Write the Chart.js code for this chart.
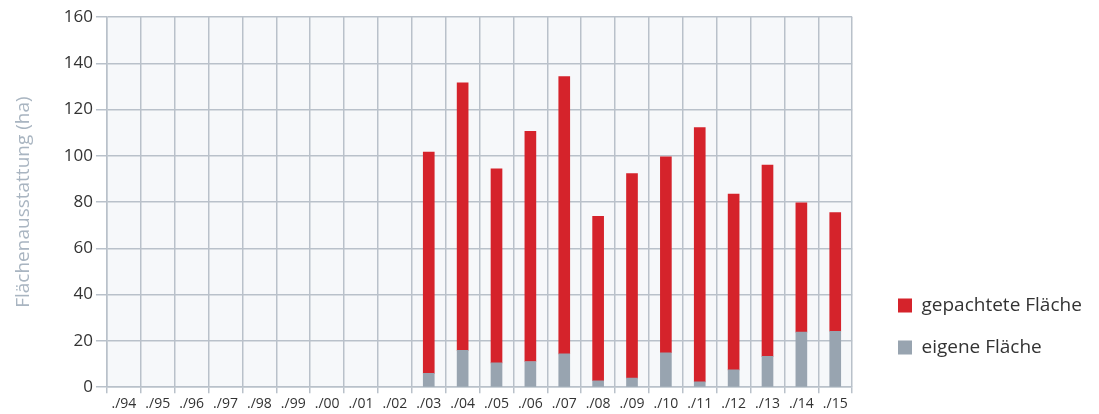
<!DOCTYPE html>
<html>
<head>
<meta charset="utf-8">
<script src="https://cdn.jsdelivr.net/npm/chart.js@4"></script>
<style>
  html, body { margin: 0; padding: 0; background: #fff; }
  #wrap { width: 1099px; height: 414px; position: relative; }
</style>
</head>
<body>
<div id="wrap"><canvas id="myChart" width="1099" height="414"></canvas></div>
<script>
var labels = ['./94', './95', './96', './97', './98', './99', './00', './01', './02', './03', './04',
  './05', './06', './07', './08', './09', './10', './11', './12', './13', './14', './15'];

// eigene Fläche (ha)
var eigene = [null, null, null, null, null, null, null, null, null,
  6, 15.9, 10.5, 11.1, 14.4, 2.8, 3.9, 14.9, 2.3, 7.5, 13.3, 23.8, 24.2];

// gepachtete Fläche (ha)
var gepachtet = [null, null, null, null, null, null, null, null, null,
  95.6, 115.7, 83.9, 99.5, 119.8, 71.1, 88.4, 84.7, 109.9, 76, 82.7, 55.9, 51.3];

var yTicks = [0, 20, 40, 60, 80, 100, 120, 140, 160];

// light background behind the plot area
var plotBg = {
  id: 'plotBg',
  beforeDraw: function (chart) {
    var a = chart.chartArea;
    var c = chart.ctx;
    c.save();
    c.fillStyle = '#f6f8fa';
    c.fillRect(a.left, a.top, a.right - a.left, a.bottom - a.top);
    c.restore();
  }
};

// move the legend block a bit away from the plot and up
var legendPos = {
  id: 'legendPos',
  afterLayout: function (chart) {
    var lg = chart.legend;
    var dx = 875 - lg.left;
    lg.left += dx; lg.right += dx;
    lg.top -= 34; lg.bottom -= 34;
  }
};

var ctx = document.getElementById('myChart').getContext('2d');
var chart = new Chart(ctx, {
  type: 'bar',
  data: {
    labels: labels,
    datasets: [{
      label: 'eigene Fläche',
      data: eigene,
      backgroundColor: '#98a4b0',
      borderWidth: 0,
      barThickness: 11
    }, {
      label: 'gepachtete Fläche',
      data: gepachtet,
      backgroundColor: '#d5232b',
      borderWidth: 0,
      barThickness: 11
    }]
  },
  plugins: [plotBg, legendPos],
  options: {
    responsive: false,
    animation: false,
    layout: { padding: { top: 17, left: 8, right: 30, bottom: 0 } },
    plugins: {
      tooltip: { enabled: false },
      legend: {
        position: 'right',
        align: 'end',
        reverse: true,
        labels: {
          boxWidth: 14,
          boxHeight: 14,
          padding: 23,
          color: '#333',
          font: { family: 'Open Sans', size: 19 }
        }
      }
    },
    scales: {
      x: {
        stacked: true,
        grid: { color: '#b9c1ca', lineWidth: 1.5, tickLength: 6, offset: true },
        border: { color: '#b9c1ca', width: 1.5 },
        ticks: { color: '#333', font: { family: 'Open Sans', size: 14 }, padding: 2, maxRotation: 0, autoSkip: false }
      },
      y: {
        stacked: true,
        min: 0,
        max: 160,
        afterBuildTicks: function (axis) {
          axis.ticks = yTicks.map(function (v) { return { value: v }; });
        },
        grid: { color: '#b9c1ca', lineWidth: 1.5, tickLength: 11 },
        border: { color: '#b9c1ca', width: 1.5 },
        ticks: { color: '#333', font: { family: 'Open Sans', size: 17 }, padding: 3 },
        title: {
          display: true,
          text: 'Flächenausstattung (ha)',
          color: '#a9b5c1',
          font: { family: 'Open Sans', size: 19 },
          padding: { top: 4, bottom: 26 }
        }
      }
    }
  }
});
</script>
</body>
</html>
